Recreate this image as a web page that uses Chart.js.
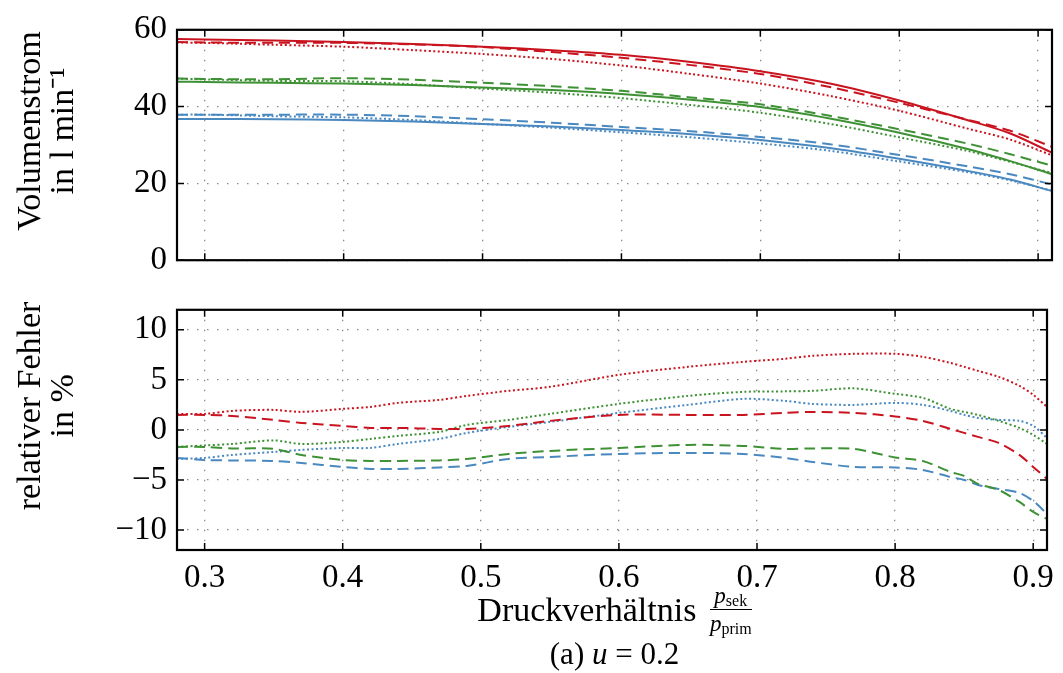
<!DOCTYPE html>
<html>
<head>
<meta charset="utf-8">
<script src="https://cdn.jsdelivr.net/npm/chart.js@4"></script>
<style>
body { margin: 0; background: #fff; width: 1063px; height: 673px; position: relative; overflow: hidden; font-family: "Liberation Serif", serif; }
#topBox { position: absolute; left: 0; top: 0; width: 1063px; height: 290px; }
#botBox { position: absolute; left: 0; top: 280px; width: 1063px; height: 320px; }
.xlabel { position: absolute; left: 177px; width: 875px; text-align: center; color: #000; white-space: nowrap; }
.frac { display: inline-block; vertical-align: middle; text-align: center; font-size: 23px; line-height: 1; margin-left: 5px; position: relative; top: -4px; }
.frac .num { display: block; border-bottom: 1px solid #000; padding: 0 1px 2px; }
.frac .den { display: block; padding-top: 2px; }
.frac sub { font-size: 16px; vertical-align: -3px; line-height: 0; }
</style>
</head>
<body>
<div id="topBox"><canvas id="topChart"></canvas></div>
<div id="botBox"><canvas id="botChart"></canvas></div>
<div class="xlabel" style="top:588px; font-size:34px">Druckverhältnis <span class="frac"><span class="num"><i>p</i><sub>sek</sub></span><span class="den"><i>p</i><sub>prim</sub></span></span></div>
<div class="xlabel" style="top:636px; font-size:31px">(a) <i>u</i> = 0.2</div>
<script>
// x ticks shared by both plots
const xTicks = [0.3, 0.4, 0.5, 0.6, 0.7, 0.8, 0.9];
const yTicksTop = [0, 20, 40, 60];
const yTicksBot = [-10, -5, 0, 5, 10];

// Volumenstrom in l/min
const xTop = [0.28, 0.30, 0.35, 0.40, 0.45, 0.50, 0.55, 0.60, 0.65, 0.70, 0.75, 0.80, 0.85, 0.88, 0.91];
const redSolid   = [57.6, 57.5, 57.2, 56.8, 56.3, 55.6, 54.7, 53.5, 51.6, 49.2, 46.0, 41.6, 36.4, 33.0, 28.0];
const redDashed  = [56.8, 56.7, 56.6, 56.6, 56.2, 55.5, 54.2, 52.7, 50.8, 48.5, 45.1, 41.0, 36.5, 33.7, 29.5];
const redDotted  = [56.7, 56.6, 56.1, 55.6, 54.7, 53.7, 52.4, 50.7, 48.5, 46.0, 42.8, 38.9, 34.2, 31.4, 27.3];
const greenSolid  = [46.5, 46.4, 46.2, 46.0, 45.6, 45.0, 44.3, 43.3, 41.8, 39.9, 36.9, 33.2, 28.9, 25.8, 22.4];
const greenDashed = [47.3, 47.2, 47.1, 47.4, 47.0, 46.2, 45.3, 44.1, 42.4, 40.6, 37.6, 34.1, 30.3, 27.6, 24.6];
const greenDotted = [47.3, 47.1, 46.7, 46.6, 45.8, 44.7, 43.6, 42.2, 40.4, 38.4, 35.5, 32.0, 28.4, 25.6, 22.7];
const blueSolid  = [36.8, 36.8, 36.7, 36.5, 36.1, 35.5, 34.8, 33.9, 32.8, 31.3, 29.2, 26.4, 23.2, 21.0, 18.0];
const blueDashed = [37.9, 37.9, 37.9, 37.9, 37.5, 36.7, 35.8, 34.7, 33.6, 32.1, 30.2, 27.4, 24.4, 22.4, 19.7];
const blueDotted = [37.9, 37.9, 37.5, 37.2, 36.5, 35.5, 34.5, 33.3, 32.0, 30.4, 28.5, 25.7, 22.9, 20.8, 18.1];

// relativer Fehler in %
const xBot = [0.28, 0.30, 0.32, 0.35, 0.37, 0.40, 0.42, 0.44, 0.47, 0.49, 0.52, 0.55, 0.60, 0.65, 0.69, 0.72, 0.74, 0.77, 0.80, 0.82, 0.84, 0.85, 0.86, 0.875, 0.89, 0.90, 0.91];
const redDashedErr   = [1.5, 1.5, 1.4, 1.0, 0.7, 0.4, 0.2, 0.2, 0.1, 0.1, 0.4, 0.9, 1.5, 1.5, 1.5, 1.7, 1.8, 1.7, 1.35, 0.9, 0.1, -0.3, -0.7, -1.3, -2.5, -3.7, -4.9];
const redDottedErr   = [1.6, 1.6, 1.9, 2.0, 1.8, 2.1, 2.3, 2.7, 3.0, 3.4, 3.9, 4.3, 5.5, 6.3, 6.8, 7.1, 7.4, 7.6, 7.6, 7.3, 6.7, 6.3, 5.9, 5.3, 4.4, 3.5, 2.3];
const greenDashedErr = [-1.7, -1.7, -1.85, -1.9, -2.5, -3.0, -3.1, -3.1, -3.05, -2.9, -2.4, -2.1, -1.8, -1.5, -1.6, -1.9, -1.85, -1.9, -2.75, -3.1, -4.2, -4.6, -5.4, -6.0, -7.2, -8.2, -8.9];
const greenDottedErr = [-1.7, -1.55, -1.4, -1.05, -1.4, -1.2, -0.9, -0.6, -0.2, 0.5, 1.0, 1.6, 2.6, 3.4, 3.8, 3.85, 3.9, 4.15, 3.6, 3.2, 2.1, 1.8, 1.5, 0.9, 0.2, -0.5, -1.4];
const blueDashedErr  = [-2.8, -3.0, -3.05, -3.1, -3.3, -3.7, -3.9, -3.9, -3.75, -3.6, -2.9, -2.7, -2.4, -2.3, -2.4, -2.8, -3.2, -3.7, -3.75, -4.0, -4.7, -5.0, -5.5, -5.9, -6.3, -7.1, -8.4];
const blueDottedErr  = [-2.9, -2.8, -2.5, -2.2, -2.0, -1.8, -1.8, -1.4, -0.9, -0.3, 0.3, 0.8, 1.7, 2.5, 3.1, 2.9, 2.6, 2.5, 2.7, 2.5, 1.9, 1.5, 1.2, 1.0, 0.9, 0.4, -0.8];

const RED = '#c9141f', GREEN = '#3e9134', BLUE = '#4a88c0';
const DASH = [11, 6], DOT = [2, 2.5];
const FONT = '"Liberation Serif", serif';

function pts(xs, ys) {
    return xs.map((x, i) => ({ x: x, y: ys[i] }));
}

function line(xs, ys, color, dash) {
    return {
        data: pts(xs, ys),
        borderColor: color,
        borderWidth: 2,
        borderDash: dash,
        pointRadius: 0,
        fill: false,
        tension: 0.3
    };
}

function fmt(v) {
    return v < 0 ? '\u2212' + Math.abs(v) : String(v);
}

// frame around the plot and inward ticks on all four sides
const framePlugin = {
    id: 'frame',
    afterDraw(chart) {
        const { ctx, chartArea: a, scales: { x, y } } = chart;
        const len = 7;
        ctx.save();
        ctx.strokeStyle = '#000';
        ctx.lineWidth = 1.5;
        ctx.beginPath();
        x.ticks.forEach(t => {
            const px = x.getPixelForValue(t.value);
            ctx.moveTo(px, a.top); ctx.lineTo(px, a.top + len);
            ctx.moveTo(px, a.bottom); ctx.lineTo(px, a.bottom - len);
        });
        y.ticks.forEach(t => {
            const py = y.getPixelForValue(t.value);
            ctx.moveTo(a.left, py); ctx.lineTo(a.left + len, py);
            ctx.moveTo(a.right, py); ctx.lineTo(a.right - len, py);
        });
        ctx.stroke();
        ctx.lineWidth = 2.2;
        ctx.strokeRect(a.left, a.top, a.right - a.left, a.bottom - a.top);
        ctx.restore();
    }
};

// two-line rotated y title, a bit above the axis centre like in the original
const yTitlePlugin = {
    id: 'yTitle',
    afterDraw(chart, args, opts) {
        const { ctx, chartArea: a } = chart;
        const cy = (a.top + a.bottom) / 2 + opts.shift;
        ctx.save();
        ctx.font = '34px ' + FONT;
        ctx.fillStyle = '#000';
        ctx.textAlign = 'center';
        ctx.textBaseline = 'middle';
        opts.lines.forEach((t, i) => {
            ctx.save();
            ctx.translate(31 + i * 33, cy);
            ctx.rotate(-Math.PI / 2);
            ctx.fillText(t, 0, 0);
            ctx.restore();
        });
        ctx.restore();
    }
};

function makeOptions(yMin, yMax, yTicks, title, shift, showX, padding) {
    const gridStyle = { color: '#8a8a8a', lineWidth: 1.3, drawTicks: false };
    return {
        responsive: true,
        maintainAspectRatio: false,
        animation: false,
        layout: { padding: padding },
        plugins: {
            legend: { display: false },
            tooltip: { enabled: false },
            yTitle: { lines: title, shift: shift }
        },
        scales: {
            x: {
                type: 'linear',
                min: 0.28,
                max: 0.91,
                afterBuildTicks: s => { s.ticks = xTicks.map(v => ({ value: v })); },
                afterFit: s => { s.height = showX ? 50 : 0; },
                grid: gridStyle,
                border: { display: false, dash: [1.5, 8.5] },
                ticks: {
                    display: showX,
                    padding: 9,
                    color: '#000',
                    font: { family: FONT, size: 33 },
                    callback: v => String(v)
                }
            },
            y: {
                type: 'linear',
                min: yMin,
                max: yMax,
                afterBuildTicks: s => { s.ticks = yTicks.map(v => ({ value: v })); },
                afterFit: s => { s.width = 177; },
                grid: gridStyle,
                border: { display: false, dash: [1.5, 8.5] },
                ticks: {
                    padding: 10,
                    color: '#000',
                    font: { family: FONT, size: 33 },
                    callback: v => fmt(v)
                }
            }
        }
    };
}

new Chart(document.getElementById('topChart'), {
    type: 'line',
    data: {
        datasets: [
            line(xTop, redSolid, RED, []),
            line(xTop, redDashed, RED, DASH),
            line(xTop, redDotted, RED, DOT),
            line(xTop, greenSolid, GREEN, []),
            line(xTop, greenDashed, GREEN, DASH),
            line(xTop, greenDotted, GREEN, DOT),
            line(xTop, blueSolid, BLUE, []),
            line(xTop, blueDashed, BLUE, DASH),
            line(xTop, blueDotted, BLUE, DOT)
        ]
    },
    options: makeOptions(0, 60, yTicksTop, ['Volumenstrom', 'in l min\u207B\u00B9'], -14, false, { top: 21, right: 11, bottom: 19, left: 0 }),
    plugins: [framePlugin, yTitlePlugin]
});

new Chart(document.getElementById('botChart'), {
    type: 'line',
    data: {
        datasets: [
            line(xBot, redDashedErr, RED, DASH),
            line(xBot, redDottedErr, RED, DOT),
            line(xBot, greenDashedErr, GREEN, DASH),
            line(xBot, greenDottedErr, GREEN, DOT),
            line(xBot, blueDashedErr, BLUE, DASH),
            line(xBot, blueDottedErr, BLUE, DOT)
        ]
    },
    options: makeOptions(-12, 12, yTicksBot, ['relativer Fehler', 'in %'], -24, true, { top: 20, right: 11, bottom: 0, left: 0 }),
    plugins: [framePlugin, yTitlePlugin]
});
</script>
</body>
</html>
